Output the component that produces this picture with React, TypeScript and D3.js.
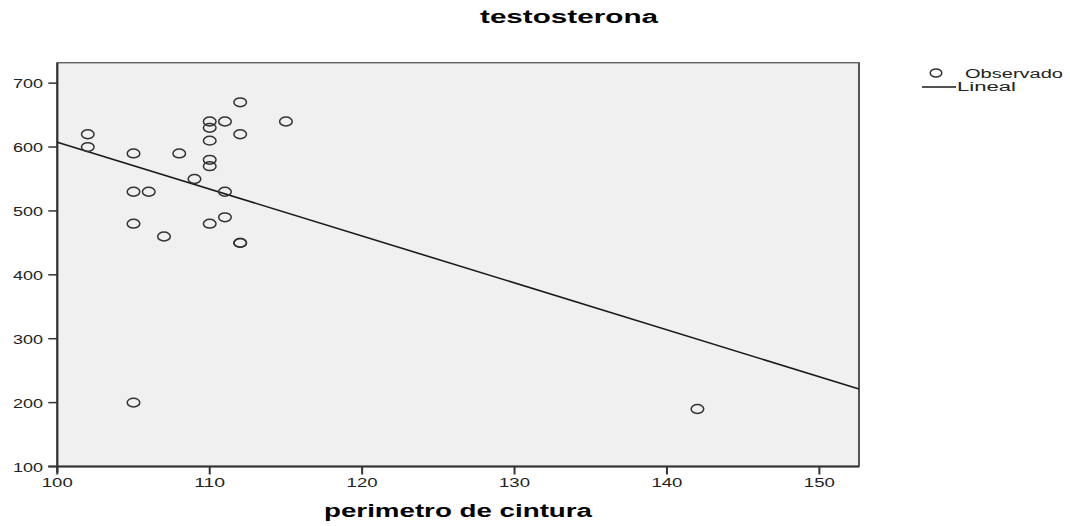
import React from 'react';
import * as d3 from 'd3';

// perimetro de cintura (x) vs testosterona (y)
const cintura = [102, 102, 105, 105, 105, 105, 106, 107, 108, 109, 110, 110, 110, 110, 110, 110, 111, 111, 111, 112, 112, 112, 112, 115, 142];
const testosterona = [620, 600, 590, 530, 480, 200, 530, 460, 590, 550, 640, 630, 610, 580, 570, 480, 640, 530, 490, 670, 620, 450, 450, 640, 190];
const xTicks = [100, 110, 120, 130, 140, 150];
const yTicks = [100, 200, 300, 400, 500, 600, 700];

const W = 1070;
const H = 526;
const left = 57.3;
const right = 859;
const top = 62.7;
const bottom = 466.5;
const font = '"Liberation Sans", Arial, sans-serif';

const App = () => {
	const x = d3.scaleLinear().domain([100, 152.6]).range([left, right]);
	const y = d3.scaleLinear().domain([100, 732]).range([bottom, top]);

	// least squares line
	const mx = d3.mean(cintura) as number;
	const my = d3.mean(testosterona) as number;
	const sxy = d3.sum(cintura, (v, i) => (v - mx) * (testosterona[i] - my));
	const sxx = d3.sum(cintura, (v) => (v - mx) * (v - mx));
	const slope = sxy / sxx;
	const fit = (v: number) => my + slope * (v - mx);
	const [x0, x1] = x.domain();
	const line = d3.line<number>().x((v) => x(v)).y((v) => y(fit(v)));

	return (
		<svg width={W} height={H} style={{ position: 'absolute', left: 0, top: 0, background: '#fff' }}>
			<text x={569} y={23} textAnchor="middle" fontFamily={font} fontWeight="bold" fontSize={18}
				textLength={178} lengthAdjust="spacingAndGlyphs" fill="#000">testosterona</text>

			<rect x={left} y={top} width={right - left} height={bottom - top} fill="#f0f0f0" stroke="#666" strokeWidth={1.5} />
			<line x1={right} x2={right} y1={top} y2={bottom} stroke="#555" strokeWidth={2} />

			<g>
				{yTicks.map((t) => (
					<g key={'y' + t}>
						<line x1={left - 9} x2={left} y1={y(t)} y2={y(t)} stroke="#333" strokeWidth={1.5} />
						<text x={43} y={y(t) + 5} textAnchor="end" fontFamily={font} fontSize={12}
							textLength={30} lengthAdjust="spacingAndGlyphs" fill="#222">{t}</text>
					</g>
				))}
			</g>
			<g>
				{xTicks.map((t) => (
					<g key={'x' + t}>
						<line x1={x(t)} x2={x(t)} y1={bottom} y2={bottom + 8} stroke="#333" strokeWidth={2} />
						<text x={x(t)} y={487} textAnchor="middle" fontFamily={font} fontSize={12}
							textLength={31} lengthAdjust="spacingAndGlyphs" fill="#222">{t}</text>
					</g>
				))}
			</g>
			<line x1={left} x2={left} y1={top} y2={bottom + 6} stroke="#333" strokeWidth={2.2} />
			<line x1={left - 9} x2={right} y1={bottom} y2={bottom} stroke="#333" strokeWidth={2.2} />

			<path d={line([x0, x1]) || ''} fill="none" stroke="#1a1a1a" strokeWidth={1.6} />

			{cintura.map((v, i) => (
				<ellipse key={i} cx={x(v)} cy={y(testosterona[i])} rx={6.3} ry={4.4}
					fill="none" stroke="#333" strokeWidth={1.5} />
			))}

			<text x={458} y={517} textAnchor="middle" fontFamily={font} fontWeight="bold" fontSize={18}
				textLength={268} lengthAdjust="spacingAndGlyphs" fill="#000">perimetro de cintura</text>

			<ellipse cx={936} cy={73} rx={5.8} ry={4} fill="none" stroke="#333" strokeWidth={1.5} />
			<text x={965} y={78} fontFamily={font} fontSize={12} textLength={98} lengthAdjust="spacingAndGlyphs" fill="#222">Observado</text>
			<line x1={922} x2={956} y1={87} y2={87} stroke="#1a1a1a" strokeWidth={1.4} />
			<text x={957} y={91} fontFamily={font} fontSize={12} textLength={59} lengthAdjust="spacingAndGlyphs" fill="#222">Lineal</text>
		</svg>
	);
};

export default App;
